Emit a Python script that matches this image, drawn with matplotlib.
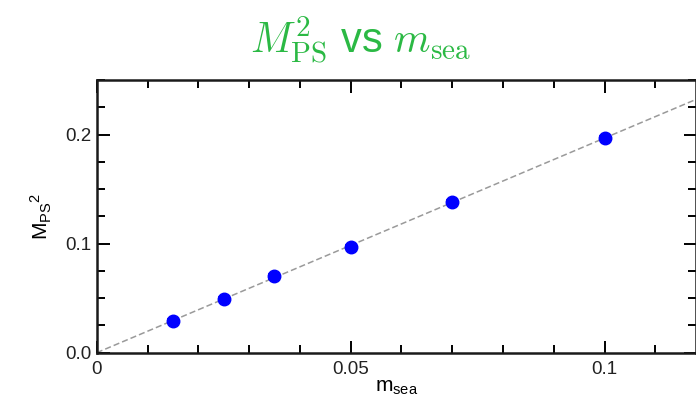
import matplotlib
matplotlib.use("Agg")
import matplotlib.pyplot as plt
from matplotlib.ticker import MultipleLocator, FixedFormatter, FixedLocator
import numpy as np

# sea quark mass vs pseudoscalar mass squared
m_sea = [0.015, 0.025, 0.035, 0.05, 0.07, 0.10]
mps_sq = [0.029, 0.049, 0.070, 0.097, 0.138, 0.197]
mps_sq_err = [0.002, 0.002, 0.002, 0.002, 0.002, 0.002]

x_ticks = [0, 0.05, 0.1]
x_tick_labels = ["0", "0.05", "0.1"]
y_ticks = [0.0, 0.1, 0.2]
y_tick_labels = ["0.0", "0.1", "0.2"]

plt.rcParams["font.family"] = ["Liberation Sans", "DejaVu Sans"]
plt.rcParams["mathtext.fontset"] = "custom"
plt.rcParams["mathtext.rm"] = "Liberation Sans"
plt.rcParams["mathtext.it"] = "Liberation Sans"

x = np.array(m_sea)
y = np.array(mps_sq)
# linear fit through the origin
slope = np.sum(x * y) / np.sum(x * x)

fig = plt.figure(figsize=(6.96, 4.04), dpi=100)
ax = fig.add_axes([0.139, 0.127, 0.861, 0.675])

xfit = np.array([0.0, 0.13])
ax.plot(xfit, slope * xfit, color="#9a9a9a", lw=1.1, dashes=(4, 2), zorder=1)
ax.errorbar(x, y, yerr=mps_sq_err, fmt="o", color="#0000ff", ms=9,
            capsize=4.5, elinewidth=1.2, capthick=1.2, zorder=3)

ax.set_xlim(0, 0.118)
ax.set_ylim(0, 0.25)
ax.xaxis.set_major_locator(FixedLocator(x_ticks))
ax.xaxis.set_major_formatter(FixedFormatter(x_tick_labels))
ax.yaxis.set_major_locator(FixedLocator(y_ticks))
ax.yaxis.set_major_formatter(FixedFormatter(y_tick_labels))
ax.xaxis.set_minor_locator(MultipleLocator(0.01))
ax.yaxis.set_minor_locator(MultipleLocator(0.025))
ax.tick_params(which="both", direction="in", top=True, right=True,
               width=1.4, labelsize=13.5, labelcolor="#222222")
ax.tick_params(which="major", length=9, pad=4)
ax.tick_params(axis="x", which="major", pad=6)
ax.tick_params(which="minor", length=5.5)
for s in ax.spines.values():
    s.set_linewidth(1.8)
    s.set_color("#1a1a1a")

ax.set_xlabel(r"m$_{\rm sea}$", fontsize=15, labelpad=0)
ax.set_ylabel(r"M$_{\rm PS}$$^{\rm 2}$", fontsize=15, labelpad=8)

fig.text(0.518, 0.9, r"$M^2_{\rm PS}$ vs $m_{\rm sea}$", color="#2bb944",
         fontsize=30, ha="center", va="center", math_fontfamily="cm")

fig.savefig("out.png", dpi=100)
